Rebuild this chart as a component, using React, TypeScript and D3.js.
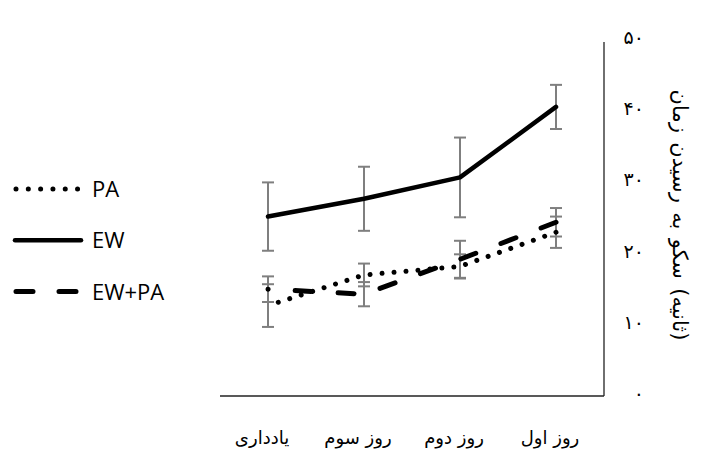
import React, { useEffect, useRef } from 'react';
import * as d3 from 'd3';

// Categories in reading order (right to left on the chart)
const CATEGORIES = ['روز اول', 'روز دوم', 'روز سوم', 'یادداری'];

const PA_VALUES = [23.0, 18.2, 17.0, 12.7];
const PA_ERRORS = [2.2, 1.7, 1.6, 3.0];

const EW_VALUES = [40.6, 30.7, 27.7, 25.2];
const EW_ERRORS = [3.1, 5.6, 4.5, 4.8];

const EWPA_VALUES = [24.4, 19.2, 14.3, 15.0];
const EWPA_ERRORS = [2.0, 2.6, 1.7, 1.8];

const Y_TICKS = [0, 10, 20, 30, 40, 50];
const Y_TICK_LABELS = ['۰', '۱۰', '۲۰', '۳۰', '۴۰', '۵۰'];

// title words in the order they appear top to bottom
const Y_TITLE_WORDS = ['زمان', 'رسیدن', 'به', 'سکو', '(ثانیه)'];

const SERIES_NAMES = ['PA', 'EW', 'EW+PA'];

const PERSIAN_FONT = '"DejaVu Sans", sans-serif';

const App: React.FC = () => {
  const svgRef = useRef<SVGSVGElement>(null);

  useEffect(() => {
    if (!svgRef.current) return;
    d3.select(svgRef.current).selectAll('*').remove();

    const width = 702;
    const height = 452;
    const plot = { left: 220, right: 604, top: 40, bottom: 396 };

    const svg = d3.select(svgRef.current)
      .attr('width', width)
      .attr('height', height)
      .attr('viewBox', `0 0 ${width} ${height}`);

    const x = d3.scaleBand<string>()
      .domain(CATEGORIES)
      .range([plot.right, plot.left]);

    const y = d3.scaleLinear()
      .domain([0, 50])
      .range([plot.bottom, plot.top]);

    const cx = (c: string) => (x(c) as number) + x.bandwidth() / 2;

    const series = [
      { name: SERIES_NAMES[0], values: PA_VALUES, errors: PA_ERRORS, dash: '0.01 12', legendDash: '0.01 12.3', width: 5 },
      { name: SERIES_NAMES[1], values: EW_VALUES, errors: EW_ERRORS, dash: null, legendDash: null, width: 4.5 },
      { name: SERIES_NAMES[2], values: EWPA_VALUES, errors: EWPA_ERRORS, dash: '16 27', legendDash: '17 26', width: 5 },
    ];

    // axes lines (no ticks)
    svg.append('line')
      .attr('x1', plot.left).attr('x2', plot.right)
      .attr('y1', y(0)).attr('y2', y(0))
      .attr('stroke', '#222').attr('stroke-width', 1.3);
    svg.append('line')
      .attr('x1', plot.right).attr('x2', plot.right)
      .attr('y1', y(0)).attr('y2', y(50) + 2)
      .attr('stroke', '#222').attr('stroke-width', 1.3);

    // y tick labels (right side, Persian digits)
    svg.append('g')
      .selectAll('text')
      .data(Y_TICKS)
      .enter()
      .append('text')
      .attr('x', 644)
      .attr('y', d => y(d) + 4)
      .attr('text-anchor', 'end')
      .attr('font-family', PERSIAN_FONT)
      .attr('font-size', 19)
      .attr('fill', '#000')
      .text((d, i) => Y_TICK_LABELS[i]);

    // y axis title, rotated, words laid out one after another
    const titleG = svg.append('g')
      .attr('transform', `translate(680, 215) rotate(90)`);
    const titleSize = 21;
    const words = titleG.selectAll('text')
      .data(Y_TITLE_WORDS)
      .enter()
      .append('text')
      .attr('font-family', PERSIAN_FONT)
      .attr('font-size', titleSize)
      .attr('fill', '#000')
      .attr('y', 7)
      .text(d => d);
    const gap = titleSize * 0.45;
    const lens: number[] = [];
    words.each(function () { lens.push((this as SVGTextElement).getComputedTextLength()); });
    const total = d3.sum(lens) + gap * (lens.length - 1);
    let pos = -total / 2;
    words.attr('x', (d, i) => {
      const p = pos;
      pos += lens[i] + gap;
      return p;
    });

    // x category labels
    svg.append('g')
      .selectAll('text')
      .data(CATEGORIES)
      .enter()
      .append('text')
      .attr('x', d => cx(d) - 6)
      .attr('y', 444)
      .attr('text-anchor', 'middle')
      .attr('font-family', PERSIAN_FONT)
      .attr('font-size', 18)
      .attr('fill', '#000')
      .text(d => d);

    // error bars first
    const errG = svg.append('g')
      .attr('stroke', '#7f7f7f')
      .attr('stroke-width', 2)
      .attr('fill', 'none');
    series.forEach(s => {
      CATEGORIES.forEach((c, i) => {
        const hi = y(s.values[i] + s.errors[i]);
        const lo = y(s.values[i] - s.errors[i]);
        const px = cx(c);
        errG.append('line').attr('x1', px).attr('x2', px).attr('y1', hi).attr('y2', lo);
        errG.append('line').attr('x1', px - 6).attr('x2', px + 6).attr('y1', hi).attr('y2', hi);
        errG.append('line').attr('x1', px - 6).attr('x2', px + 6).attr('y1', lo).attr('y2', lo);
      });
    });

    // series lines
    const line = d3.line<number>()
      .x((d, i) => cx(CATEGORIES[i]))
      .y(d => y(d));

    series.forEach(s => {
      svg.append('path')
        .datum(s.values)
        .attr('d', line)
        .attr('fill', 'none')
        .attr('stroke', '#000')
        .attr('stroke-width', s.width)
        .attr('stroke-linecap', 'round')
        .attr('stroke-linejoin', 'round')
        .attr('stroke-dasharray', s.dash);
    });

    // legend
    const legend = svg.append('g');
    series.forEach((s, i) => {
      const ly = 189 + i * 51.3;
      legend.append('line')
        .attr('x1', s.dash ? 16 : 15).attr('x2', 81)
        .attr('y1', ly).attr('y2', ly)
        .attr('stroke', '#000')
        .attr('stroke-width', s.width)
        .attr('stroke-linecap', 'round')
        .attr('stroke-dasharray', s.legendDash);
      legend.append('text')
        .attr('x', 92)
        .attr('y', ly + 8)
        .attr('font-family', '"Open Sans", sans-serif')
        .attr('font-size', 22)
        .attr('fill', '#000')
        .text(s.name);
    });
  }, []);

  return (
    <div style={{ position: 'fixed', left: 0, top: 0, width: 702, height: 452, background: '#fff' }}>
      <svg ref={svgRef} style={{ display: 'block' }}></svg>
    </div>
  );
};

export default App;
